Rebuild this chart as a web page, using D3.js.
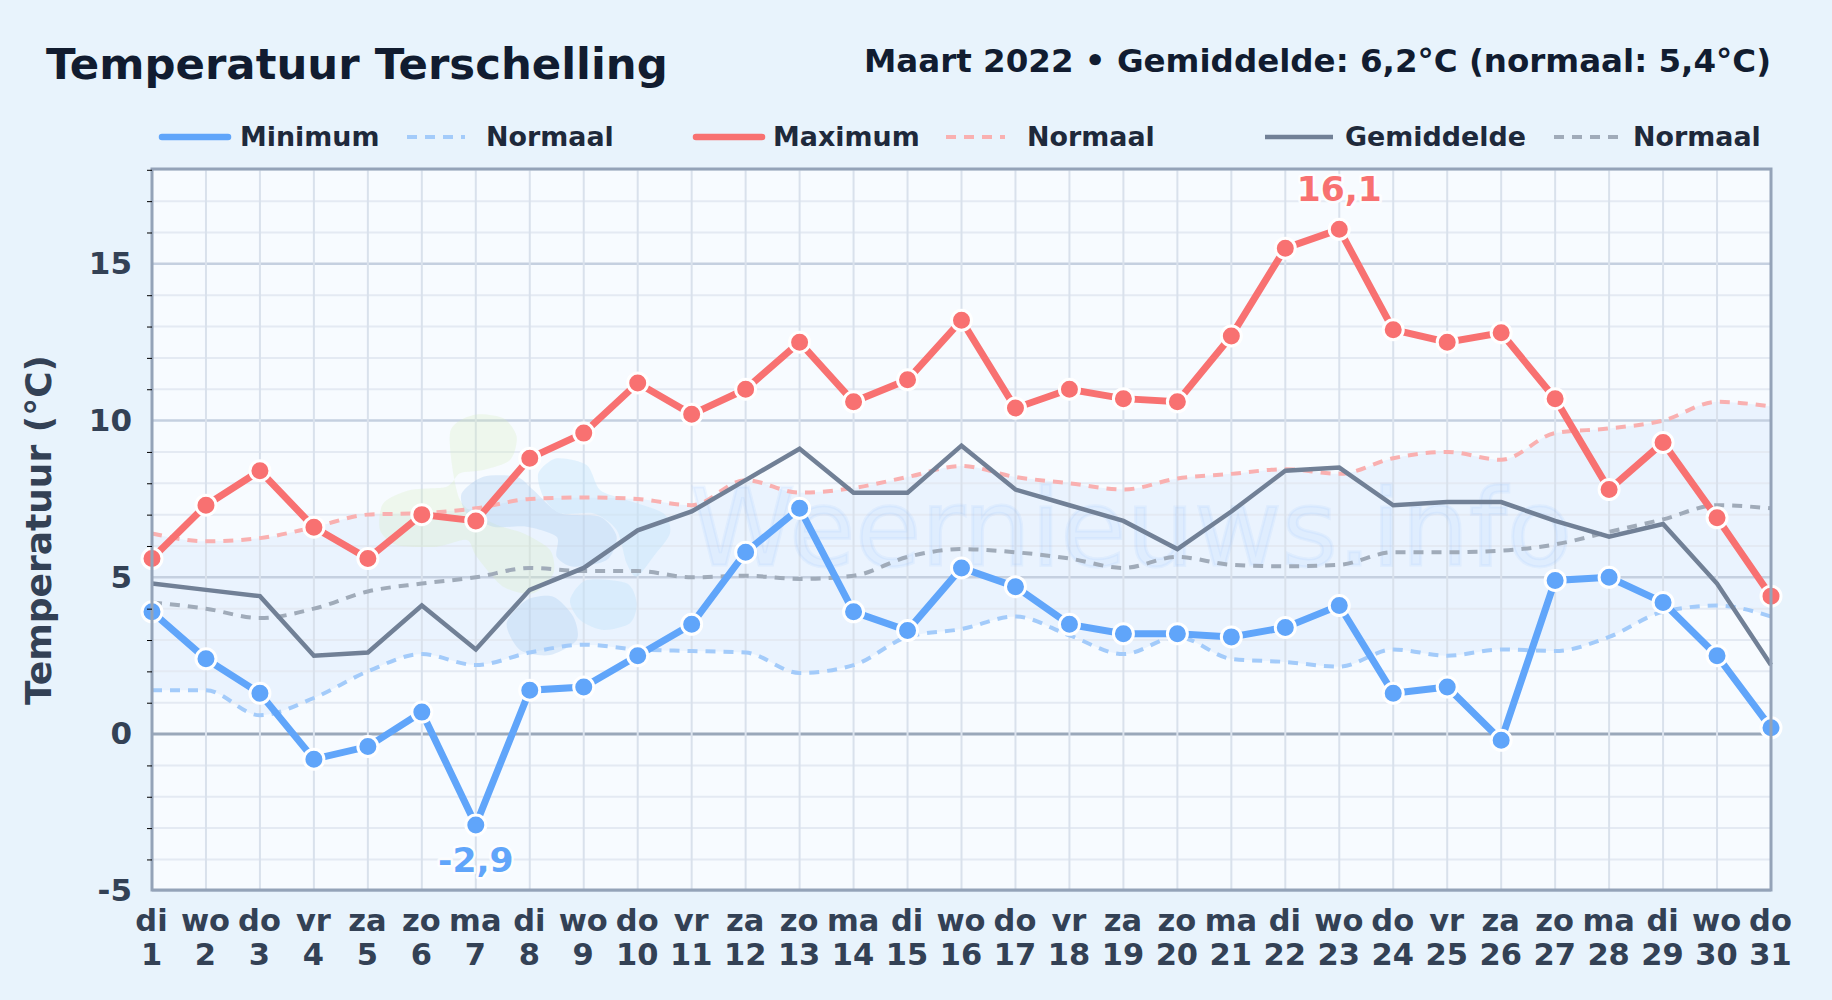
<!DOCTYPE html>
<html>
<head>
<meta charset="utf-8">
<title>Temperatuur Terschelling</title>
<script src="https://cdn.jsdelivr.net/npm/d3@7"></script>
<style>
  html, body { margin: 0; padding: 0; background: #e8f3fc; }
  svg { display: block; font-family: "DejaVu Sans", sans-serif; font-weight: bold; }
  .axis .domain { display: none; }
</style>
</head>
<body>
<div id="container"></div>
<script>
//Chart values
const days = ['di','wo','do','vr','za','zo','ma','di','wo','do','vr','za','zo','ma','di','wo','do','vr','za','zo','ma','di','wo','do','vr','za','zo','ma','di','wo','do'];
const dates = d3.range(1, 32);
const tmax = [5.6,7.3,8.4,6.6,5.6,7.0,6.8,8.8,9.6,11.2,10.2,11.0,12.5,10.6,11.3,13.2,10.4,11.0,10.7,10.6,12.7,15.5,16.1,12.9,12.5,12.8,10.7,7.8,9.3,6.9,4.4];
const tmin = [3.9,2.4,1.3,-0.8,-0.4,0.7,-2.9,1.4,1.5,2.5,3.5,5.8,7.2,3.9,3.3,5.3,4.7,3.5,3.2,3.2,3.1,3.4,4.1,1.3,1.5,-0.2,4.9,5.0,4.2,2.5,0.2];
const tavg = [4.8,4.6,4.4,2.5,2.6,4.1,2.7,4.6,5.3,6.5,7.1,8.1,9.1,7.7,7.7,9.2,7.8,7.3,6.8,5.9,7.1,8.4,8.5,7.3,7.4,7.4,6.8,6.3,6.7,4.8,2.2];
const normMax = [6.4,6.15,6.25,6.6,7.0,7.05,7.2,7.5,7.55,7.5,7.3,8.1,7.7,7.85,8.2,8.55,8.2,8.0,7.8,8.15,8.3,8.45,8.3,8.8,9.0,8.75,9.6,9.75,10.0,10.6,10.45];
const normMin = [1.4,1.4,0.6,1.15,2.0,2.55,2.2,2.6,2.85,2.7,2.65,2.6,1.95,2.2,3.1,3.35,3.75,3.15,2.55,3.1,2.4,2.3,2.15,2.7,2.5,2.7,2.65,3.1,3.9,4.1,3.75];
const normAvg = [4.2,4.0,3.7,4.0,4.55,4.8,5.0,5.3,5.2,5.2,5.0,5.05,4.95,5.05,5.65,5.9,5.8,5.6,5.3,5.65,5.4,5.35,5.4,5.8,5.8,5.85,6.05,6.45,6.85,7.3,7.2];

const legendLabels = ['Minimum','Normaal','Maximum','Normaal','Gemiddelde','Normaal'];

const width = 1832, height = 1000;
const left = 152, right = 1771, top_ = 169, bottom = 890;

const blue = '#60a5fa', red = '#f87171', slate = '#718096';
const blueSoft = '#a3cbfa', redSoft = '#f9b0b0', slateSoft = '#a0abb9';

const svg = d3.select('#container').append('svg')
    .attr('width', width)
    .attr('height', height);

svg.append('rect').attr('width', width).attr('height', height).attr('fill', '#e8f3fc');

//Scales
const x = d3.scaleLinear().domain([1, 31]).range([left, right]);
const y = d3.scaleLinear().domain([-5, 18]).range([bottom + 0.8, top_ + 0.8]);

//Plot background
svg.append('rect')
    .attr('x', left).attr('y', top_)
    .attr('width', right - left).attr('height', bottom - top_)
    .attr('fill', '#f7fbff');

//Band between the normals
const band = d3.area()
    .x((d, i) => x(dates[i]))
    .y0((d, i) => y(normMin[i]))
    .y1((d, i) => y(normMax[i]))
    .curve(d3.curveMonotoneX);

svg.append('path')
    .datum(dates)
    .attr('d', band)
    .attr('fill', 'rgba(59,130,246,0.065)');

//Grid
const yTicks = d3.range(-5, 19);
svg.append('g').selectAll('line')
    .data(yTicks)
    .enter().append('line')
    .attr('x1', left).attr('x2', right)
    .attr('y1', d => y(d)).attr('y2', d => y(d))
    .attr('stroke', d => d === 0 ? '#9aa8ba' : (d % 5 === 0 ? '#c5d0e0' : '#e4eaf3'))
    .attr('stroke-width', d => d === 0 ? 3 : (d % 5 === 0 ? 2.5 : 2));

svg.append('g').selectAll('line')
    .data(dates)
    .enter().append('line')
    .attr('x1', d => x(d)).attr('x2', d => x(d))
    .attr('y1', top_).attr('y2', bottom)
    .attr('stroke', '#d9e1ec')
    .attr('stroke-width', 2);

const logoShapes = [
    {fill: 'rgba(214,236,190,0.28)', pts: [[270,130],[340,75],[430,85],[470,140],[450,210],[370,240],[300,250],[260,290],[150,300],[70,340],[60,420],[110,465],[230,470],[320,450],[350,500],[430,590],[520,610],[580,550],[570,480],[490,430],[400,400],[300,330]]},
    {fill: 'rgba(170,205,240,0.34)', pts: [[305,310],[370,260],[470,260],[520,300],[600,370],[720,380],[770,440],[740,510],[640,530],[590,500],[590,440],[500,410],[400,410],[320,370]]},
    {fill: 'rgba(170,205,240,0.34)', pts: [[440,700],[500,630],[580,620],[640,680],[650,750],[570,795],[480,780]]},
    {fill: 'rgba(190,225,250,0.38)', pts: [[535,250],[590,205],[680,225],[720,300],[800,330],[910,370],[930,430],[880,500],[830,560],[800,520],[770,420],[700,370],[600,370],[550,320]]},
    {fill: 'rgba(190,225,250,0.38)', pts: [[630,630],[680,570],[800,580],[830,640],[810,700],[730,720],[660,690]]}
];
const blob = d3.line()
    .x(d => 360 + d[0] / 3)
    .y(d => 390 + d[1] / 3)
    .curve(d3.curveCardinalClosed.tension(0.2));
svg.append('g').selectAll('path')
    .data(logoShapes)
    .enter().append('path')
    .attr('d', d => blob(d.pts))
    .attr('fill', d => d.fill);

svg.append('text')
    .attr('x', 1131).attr('y', 565)
    .attr('text-anchor', 'middle')
    .attr('font-size', 107)
    .attr('font-weight', 'normal')
    .attr('fill', 'rgba(96,165,250,0.08)')
    .attr('stroke', 'rgba(96,165,250,0.08)')
    .attr('stroke-width', 3)
    .attr('paint-order', 'stroke')
    .text('Weernieuws.info');

//Lines
const straight = d3.line().x((d, i) => x(dates[i])).y(d => y(d));
const smooth = d3.line().x((d, i) => x(dates[i])).y(d => y(d)).curve(d3.curveMonotoneX);

const dashed = [[normMax, redSoft], [normAvg, slateSoft], [normMin, blueSoft]];
dashed.forEach(([values, color]) => {
    svg.append('path')
        .attr('d', smooth(values))
        .attr('fill', 'none')
        .attr('stroke', color)
        .attr('stroke-width', 4)
        .attr('stroke-dasharray', '10 8');
});

svg.append('path')
    .attr('d', straight(tavg))
    .attr('fill', 'none')
    .attr('stroke', slate)
    .attr('stroke-width', 4.5);

[[tmin, blue], [tmax, red]].forEach(([values, color]) => {
    svg.append('path')
        .attr('d', straight(values))
        .attr('fill', 'none')
        .attr('stroke', color)
        .attr('stroke-width', 7);

    svg.append('g').selectAll('circle')
        .data(values)
        .enter().append('circle')
        .attr('cx', (d, i) => x(dates[i]))
        .attr('cy', d => y(d))
        .attr('r', 10)
        .attr('fill', color)
        .attr('stroke', '#fff')
        .attr('stroke-width', 3);
});

//Frame
svg.append('rect')
    .attr('x', left).attr('y', top_)
    .attr('width', right - left).attr('height', bottom - top_)
    .attr('fill', 'none')
    .attr('stroke', '#94a3b8')
    .attr('stroke-width', 3);

//Axes
const yAxis = svg.append('g')
    .attr('class', 'axis')
    .attr('transform', `translate(${left},0)`)
    .call(d3.axisLeft(y)
        .tickValues(yTicks)
        .tickSize(5)
        .tickPadding(15)
        .tickFormat(d => d % 5 === 0 ? d : ''));
yAxis.selectAll('text')
    .attr('font-family', '"DejaVu Sans", sans-serif')
    .attr('font-size', 31)
    .attr('font-weight', 'bold')
    .attr('fill', '#334155');
yAxis.selectAll('.tick').filter(d => d % 5 === 0).select('line').remove();

const xAxis = svg.append('g')
    .attr('class', 'axis')
    .attr('transform', `translate(0,${bottom})`)
    .call(d3.axisBottom(x).tickValues(dates).tickSize(0).tickFormat(''));
xAxis.selectAll('.tick text').each(function (d, i) {
    const t = d3.select(this)
        .attr('font-family', '"DejaVu Sans", sans-serif')
        .attr('font-size', 30.5)
        .attr('font-weight', 'bold')
        .attr('fill', '#334155')
        .attr('y', 0)
        .attr('dy', null);
    t.append('tspan').attr('x', -1).attr('y', 41).text(days[i]);
    t.append('tspan').attr('x', -1).attr('y', 75).text(dates[i]);
});

//Extreme labels
const fmt = v => String(v).replace('.', ',');
const iMax = d3.maxIndex(tmax), iMin = d3.minIndex(tmin);
[[x(dates[iMax]), y(tmax[iMax]) - 28, tmax[iMax], red],
 [x(dates[iMin]), y(tmin[iMin]) + 47, tmin[iMin], blue]].forEach(([px, py, v, color]) => {
    svg.append('text')
        .attr('x', px).attr('y', py)
        .attr('text-anchor', 'middle')
        .attr('font-size', 34.5)
        .attr('fill', color)
        .attr('stroke', '#fff')
        .attr('stroke-width', 5)
        .attr('stroke-linejoin', 'round')
        .attr('stroke-opacity', 0.8)
        .attr('paint-order', 'stroke')
        .text(fmt(v));
});

//Titles
svg.append('text')
    .attr('x', 46).attr('y', 79)
    .attr('font-size', 43.4)
    .attr('fill', '#111c30')
    .text('Temperatuur Terschelling');

svg.append('text')
    .attr('x', 1771).attr('y', 72)
    .attr('text-anchor', 'end')
    .attr('font-size', 32.5)
    .attr('fill', '#111c30')
    .text('Maart 2022 • Gemiddelde: 6,2°C (normaal: 5,4°C)');

svg.append('text')
    .attr('transform', 'translate(51,530) rotate(-90)')
    .attr('text-anchor', 'middle')
    .attr('font-size', 36)
    .attr('fill', '#334155')
    .text('Temperatuur (°C)');

//Legend
const legendX = [[162, 228, 240], [407, 465, 486], [696, 762, 773], [946, 1005, 1027], [1265, 1333, 1345], [1554, 1619, 1633]];
const legendStyle = [[blue, 6.5, null], [blueSoft, 4, '10 8'], [red, 6.5, null], [redSoft, 4, '10 8'], [slate, 4.5, null], [slateSoft, 4, '10 8']];
const legend = svg.append('g');
legendLabels.forEach((label, i) => {
    const [x1, x2, tx] = legendX[i];
    const [color, w, dash] = legendStyle[i];
    legend.append('line')
        .attr('x1', x1).attr('x2', x2)
        .attr('y1', 137).attr('y2', 137)
        .attr('stroke', color)
        .attr('stroke-width', w)
        .attr('stroke-linecap', w === 6.5 ? 'round' : 'butt')
        .attr('stroke-dasharray', dash);
    legend.append('text')
        .attr('x', tx).attr('y', 146)
        .attr('font-size', 26.9)
        .attr('fill', '#1e293b')
        .text(label);
});
</script>
</body>
</html>
